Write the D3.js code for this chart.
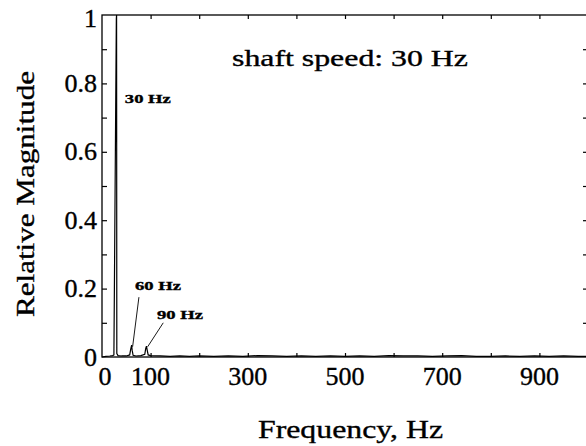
<!DOCTYPE html>
<html>
<head>
<meta charset="utf-8">
<script src="https://cdn.jsdelivr.net/npm/d3@7"></script>
<style>
  html, body { margin: 0; padding: 0; background: #fff; }
  svg { display: block; }
  text { stroke: #000; stroke-width: 0.35px; fill: #000; }
</style>
</head>
<body>
<script>
// ---- data ----
const freqHz = [0, 8, 16, 22, 24.5, 25.5, 29.5, 30, 30.5, 33, 40, 50, 57, 59, 61, 62, 64, 70, 80, 88, 90, 91.5, 93, 95, 100, 120, 140, 160, 180, 200, 230, 260, 290, 320, 350, 380, 410, 440, 470, 500, 530, 560, 590, 620, 650, 680, 710, 740, 770, 800, 830, 860, 890, 920, 950, 980, 1000];
const magnitude = [0, 0.002, 0.003, 0.004, 0.006, 0.2, 0.99, 1.0, 0.01, 0.004, 0.003, 0.003, 0.006, 0.022, 0.035, 0.02, 0.005, 0.003, 0.004, 0.008, 0.025, 0.032, 0.02, 0.006, 0.004, 0.003, 0.002, 0.003, 0.002, 0.003, 0.002, 0.003, 0.002, 0.004, 0.003, 0.002, 0.003, 0.002, 0.003, 0.002, 0.003, 0.002, 0.004, 0.003, 0.003, 0.002, 0.003, 0.004, 0.002, 0.002, 0.003, 0.002, 0.003, 0.002, 0.003, 0.002, 0.002];
const xTickLabels = [0, 100, 300, 500, 700, 900];
const xMinorTicks = [100, 200, 300, 400, 500, 600, 700, 800, 900];
const yTickLabels = [0, 0.2, 0.4, 0.6, 0.8, 1];
const yMinorTicks = [0.1, 0.2, 0.3, 0.4, 0.5, 0.6, 0.7, 0.8, 0.9];
// peak annotations: label anchor (tf, tm) in data units, leader from peak (f, m)
const peakLabels = [
  { text: "30 Hz", f: 30, m: 1, tf: 47, tm: 0.742, leader: false },
  { text: "60 Hz", f: 63, m: 0.03, tf: 68, tm: 0.196, leader: true, lf: 76, lm: 0.175 },
  { text: "90 Hz", f: 94, m: 0.03, tf: 113, tm: 0.11, leader: true, lf: 126, lm: 0.1 }
];
const title = "shaft speed: 30 Hz";
const xLabel = "Frequency, Hz";
const yLabel = "Relative Magnitude";

// ---- layout ----
const W = 586, H = 446;
const mLeft = 102, mRight = 588, mTop = 15, mBottom = 357;
const serif = "'Liberation Serif', 'Times New Roman', serif";

const svg = d3.select("body").append("svg").attr("width", W).attr("height", H);

const x = d3.scaleLinear().domain([0, 1000]).range([mLeft, mRight]);
const y = d3.scaleLinear().domain([0, 1]).range([mBottom, mTop]);

// frame
svg.append("rect").attr("x", mLeft).attr("y", mTop)
  .attr("width", mRight - mLeft).attr("height", mBottom - mTop)
  .attr("fill", "none").attr("stroke", "#000").attr("stroke-width", 1.3);

// axes with inward ticks
const gB = svg.append("g").attr("transform", `translate(0,${mBottom})`)
  .call(d3.axisTop(x).tickValues(xMinorTicks).tickSize(4).tickFormat(""));
const gT = svg.append("g").attr("transform", `translate(0,${mTop})`)
  .call(d3.axisBottom(x).tickValues(xMinorTicks).tickSize(4).tickFormat(""));
const gL = svg.append("g").attr("transform", `translate(${mLeft},0)`)
  .call(d3.axisRight(y).tickValues(yMinorTicks).tickSize(5).tickFormat(""));
const gR = svg.append("g").attr("transform", `translate(${mRight},0)`)
  .call(d3.axisLeft(y).tickValues(yMinorTicks).tickSize(5).tickFormat(""));
[gB, gT, gL, gR].forEach(g => {
  g.select(".domain").remove();
  g.selectAll("line").attr("stroke", "#000").attr("stroke-width", 1.2);
});

// tick labels
svg.append("g").selectAll("text").data(xTickLabels).join("text")
  .attr("x", d => x(d) + (d === 0 ? 3 : 0)).attr("y", 385)
  .attr("text-anchor", "middle").attr("font-size", 26).attr("font-family", serif)
  .text(d => d);
svg.append("g").selectAll("text").data(yTickLabels).join("text")
  .attr("x", 97).attr("y", d => y(d) + (d === 1 ? 12 : 8.5))
  .attr("text-anchor", "end").attr("font-size", 26).attr("font-family", serif)
  .text(d => d === 0 ? "0" : d === 1 ? "1" : d3.format(".1f")(d));

// spectrum
svg.append("path").datum(freqHz.map((f, i) => [f, magnitude[i]]))
  .attr("d", d3.line().x(d => x(d[0])).y(d => y(d[1])))
  .attr("fill", "none").attr("stroke", "#000").attr("stroke-width", 1.2);

// peak labels
peakLabels.forEach(p => {
  if (p.leader) {
    svg.append("line")
      .attr("x1", x(p.f)).attr("y1", y(p.m))
      .attr("x2", x(p.lf)).attr("y2", y(p.lm))
      .attr("stroke", "#000").attr("stroke-width", 0.9);
  }
  svg.append("text")
    .attr("x", x(p.tf)).attr("y", y(p.tm))
    .attr("font-size", 13).attr("font-weight", "bold").attr("font-family", serif)
    .attr("stroke-width", 0)
    .attr("textLength", 46).attr("lengthAdjust", "spacingAndGlyphs")
    .text(p.text);
});

// title
svg.append("text").attr("x", 232).attr("y", 66)
  .attr("font-size", 23).attr("font-family", serif)
  .attr("textLength", 236).attr("lengthAdjust", "spacingAndGlyphs").text(title);

// axis titles
svg.append("text").attr("x", 258).attr("y", 438)
  .attr("font-size", 25).attr("font-family", serif)
  .attr("textLength", 185).attr("lengthAdjust", "spacingAndGlyphs").text(xLabel);
svg.append("text").attr("transform", `translate(34,317) rotate(-90)`)
  .attr("font-size", 25).attr("font-family", serif)
  .attr("textLength", 246).attr("lengthAdjust", "spacingAndGlyphs").text(yLabel);
</script>
</body>
</html>
